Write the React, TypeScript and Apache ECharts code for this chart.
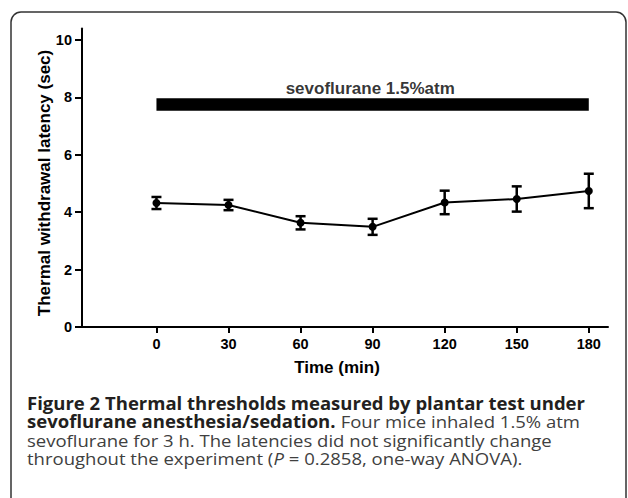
import React, { useEffect, useRef } from "react";
import * as echarts from "echarts";

const times = [0, 30, 60, 90, 120, 150, 180];
const means = [4.32, 4.25, 3.63, 3.49, 4.34, 4.46, 4.74];
const errs = [0.21, 0.18, 0.23, 0.28, 0.41, 0.44, 0.6];
const yTicks = [0, 2, 4, 6, 8, 10];
const xTicks = [0, 30, 60, 90, 120, 150, 180];
const sevoBar = { start: 0, end: 180, low: 7.53, high: 7.97 };
const sevoLabel = "sevoflurane 1.5%atm";
const sevoLabelPos = [89, 8.32];
const yTitle = "Thermal withdrawal latency (sec)";
const xTitle = "Time (min)";
const captionLines = [
  [{ t: "Figure 2 Thermal thresholds measured by plantar test under", b: true }],
  [
    { t: "sevoflurane anesthesia/sedation.", b: true },
    { t: " Four mice inhaled 1.5% atm", b: false },
  ],
  [{ t: "sevoflurane for 3 h. The latencies did not significantly change", b: false }],
  [
    { t: "throughout the experiment (", b: false },
    { t: "P", b: false, i: true },
    { t: " = 0.2858, one-way ANOVA).", b: false },
  ],
];

export default function App() {
  const ref = useRef<HTMLDivElement>(null);
  useEffect(() => {
    const chart = echarts.init(ref.current!, null, { renderer: "svg" });
    const font = "'Liberation Sans', Arial, sans-serif";
    const capFont = "'Open Sans', 'Noto Sans', sans-serif";
    const lineCenters = [403, 421.5, 440, 458];
    const captionGraphics = captionLines.map((segs, li) => {
      const rich: any = {
        b: { fontFamily: capFont, fontSize: 17, fontWeight: "bold", fill: "#231f20" },
        n: { fontFamily: capFont, fontSize: 17, fontWeight: "normal", fill: "#404040" },
        i: { fontFamily: capFont, fontSize: 17, fontWeight: "normal", fontStyle: "italic", fill: "#404040" },
      };
      const text = segs
        .map((s: any) => `{${s.i ? "i" : s.b ? "b" : "n"}|${s.t}}`)
        .join("");
      return {
        type: "text",
        x: 27,
        y: lineCenters[li],
        scaleX: 1.09,
        style: { text, rich, fontFamily: capFont, fontSize: 17, verticalAlign: "middle", align: "left" },
      };
    });
    const points = times.map((t, i) => [t, means[i]]);
    const errData = times.map((t, i) => [t, means[i] - errs[i], means[i] + errs[i]]);
    chart.setOption({
      animation: false,
      backgroundColor: "#ffffff",
      grid: { left: 82, right: 20, top: 28.5, bottom: 171, containLabel: false },
      xAxis: {
        type: "value",
        min: -31,
        max: 188,
        axisLine: { show: true, onZero: false, lineStyle: { color: "#000", width: 2 } },
        axisTick: { show: true, length: 6, customValues: xTicks, lineStyle: { color: "#000", width: 2 } },
        axisLabel: {
          customValues: xTicks,
          margin: 9,
          fontFamily: font,
          fontWeight: "bold",
          fontSize: 14.5,
          color: "#000",
        },
        splitLine: { show: false },
      },
      yAxis: {
        type: "value",
        min: 0,
        max: 10.4,
        axisLine: { show: true, onZero: false, lineStyle: { color: "#000", width: 2 } },
        axisTick: { show: true, length: 7, customValues: yTicks, lineStyle: { color: "#000", width: 2 } },
        axisLabel: {
          customValues: yTicks,
          margin: 10,
          fontFamily: font,
          fontWeight: "bold",
          fontSize: 14.5,
          color: "#000",
        },
        splitLine: { show: false },
      },
      series: [
        {
          type: "custom",
          data: [[sevoBar.start, sevoBar.end, sevoBar.low, sevoBar.high]],
          renderItem: (params: any, api: any) => {
            const p1 = api.coord([api.value(0), api.value(3)]);
            const p2 = api.coord([api.value(1), api.value(2)]);
            return {
              type: "rect",
              shape: { x: p1[0], y: p1[1], width: p2[0] - p1[0], height: p2[1] - p1[1] },
              style: { fill: "#000" },
            };
          },
          z: 1,
        },
        {
          type: "scatter",
          data: [sevoLabelPos],
          symbolSize: 0,
          label: {
            show: true,
            position: "inside",
            formatter: sevoLabel,
            fontFamily: font,
            fontWeight: "bold",
            fontSize: 17,
            color: "#000",
          },
          silent: true,
        },
        {
          type: "line",
          data: points,
          symbol: "circle",
          symbolSize: 8,
          lineStyle: { color: "#000", width: 2 },
          itemStyle: { color: "#000" },
          z: 3,
        },
        {
          type: "custom",
          data: errData,
          renderItem: (params: any, api: any) => {
            const lo = api.coord([api.value(0), api.value(1)]);
            const hi = api.coord([api.value(0), api.value(2)]);
            const w = 5;
            const style = { stroke: "#000", lineWidth: 2.5 };
            return {
              type: "group",
              children: [
                { type: "line", shape: { x1: lo[0], y1: lo[1], x2: hi[0], y2: hi[1] }, style },
                { type: "line", shape: { x1: lo[0] - w, y1: lo[1], x2: lo[0] + w, y2: lo[1] }, style },
                { type: "line", shape: { x1: hi[0] - w, y1: hi[1], x2: hi[0] + w, y2: hi[1] }, style },
              ],
            };
          },
          z: 4,
        },
      ],
      graphic: [
        {
          type: "rect",
          shape: { x: 11, y: 12, width: 615, height: 600, r: 10 },
          style: { fill: "none", stroke: "#333", lineWidth: 1.5 },
          z: -1,
        },
        {
          type: "text",
          x: 44,
          y: 183,
          rotation: Math.PI / 2,
          style: {
            text: yTitle,
            fontFamily: font,
            fontWeight: "bold",
            fontSize: 17,
            fill: "#000",
            align: "center",
            verticalAlign: "middle",
          },
        },
        {
          type: "text",
          x: 337,
          y: 367,
          style: {
            text: xTitle,
            fontFamily: font,
            fontWeight: "bold",
            fontSize: 17,
            fill: "#000",
            align: "center",
            verticalAlign: "middle",
          },
        },
        ...captionGraphics,
      ],
    });
    return () => chart.dispose();
  }, []);
  return (
    <div
      ref={ref}
      style={{ position: "fixed", left: 0, top: 0, width: 628, height: 498, background: "#fff" }}
    />
  );
}
